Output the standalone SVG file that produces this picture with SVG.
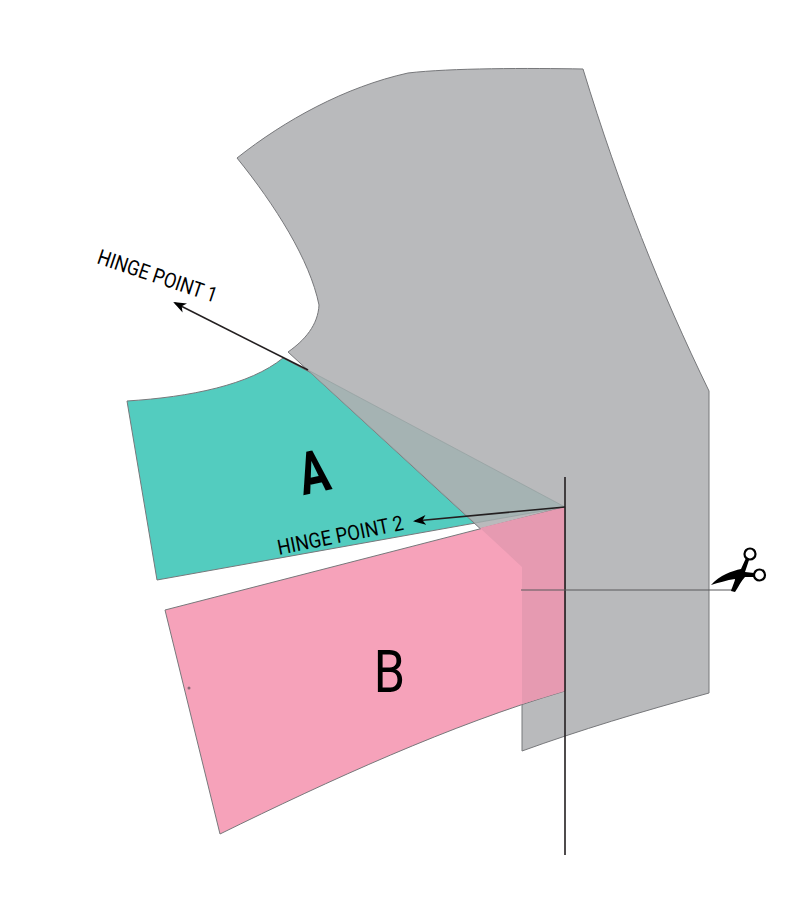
<svg xmlns="http://www.w3.org/2000/svg" width="800" height="920" viewBox="0 0 800 920">
<defs>
<marker id="ah" markerWidth="13" markerHeight="11" refX="11" refY="5.500" orient="auto" markerUnits="userSpaceOnUse"><path d="M13 5.500L0 0.500L3.500 5.500L0 10.500Z" fill="#000"/></marker>
</defs>
<style>
.o{stroke:#77787b;stroke-width:1}
.t{font-family:Roboto,"Liberation Sans",sans-serif;fill:#000}
.l{stroke:#231f20;stroke-width:1.6;fill:none}
</style>
<rect width="800" height="920" fill="#fff"/>
<g id="piece-a">
<path class="o" fill="#53ccbf" d="M127 401C190 397 250 385 283 358L565 507L157 580Z"/>
</g>
<g id="bodice">
<path class="o" fill="#b9babc" d="M237 158C275 205 310 260 319 305C318 325 305 340 288 352L522 567V751C580 730 640 712 709 693V391C660 290 620 190 583 69C530 68 450 68 408 73C345 87 285 120 237 158Z"/>
<path fill="#a5b3b3" stroke="#8f9c9c" stroke-width=".6" d="M308 370L565 507L475 523Z"/>
</g>
<g id="piece-b">
<path class="o" fill="#f6a2ba" d="M165 610L565 507V691C450 725 330 780 220 834Z"/>
<path fill="#e69ab1" d="M480 528L565 507V691L522 704V567Z"/>
<circle cx="189" cy="688" r="1.500" fill="#8a6a75"/>
</g>
<g id="connectors">
<path class="l" d="M565 477V855"/>
<path stroke="#58595b" stroke-width="1" fill="none" d="M521 590H735"/>
<path class="l" marker-end="url(#ah)" d="M308 370L175 303"/>
<path class="l" marker-end="url(#ah)" d="M565 507L415 521"/>
</g>
<g id="labels">
<text class="t" font-size="21" textLength="125" lengthAdjust="spacingAndGlyphs" transform="translate(96 263) rotate(18.6)">HINGE POINT 1</text>
<text class="t" font-size="21" textLength="128" lengthAdjust="spacingAndGlyphs" transform="translate(279 555) rotate(-11.4)">HINGE POINT 2</text>
<text class="t" font-size="59" font-weight="700" text-anchor="middle" transform="translate(318 492) rotate(-12) scale(.76 1)">A</text>
<text class="t" font-size="59" text-anchor="middle" transform="translate(389.500 692) scale(.85 1)">B</text>
</g>
<g id="scissors">
<circle cx="750" cy="554" r="5.500" fill="#fff" stroke="#000" stroke-width="2.200"/>
<circle cx="759.500" cy="575" r="5.500" fill="#fff" stroke="#000" stroke-width="2.200"/>
<path fill="#000" d="M711 585C720 575 732 571 741 569L746 558L749 560L745 572L754 573L754 577L745 577C741 581 739 586 735 592L731 591C733 585 735 581 735 579C727 580 718 583 711 585Z"/>
</g>
</svg>
